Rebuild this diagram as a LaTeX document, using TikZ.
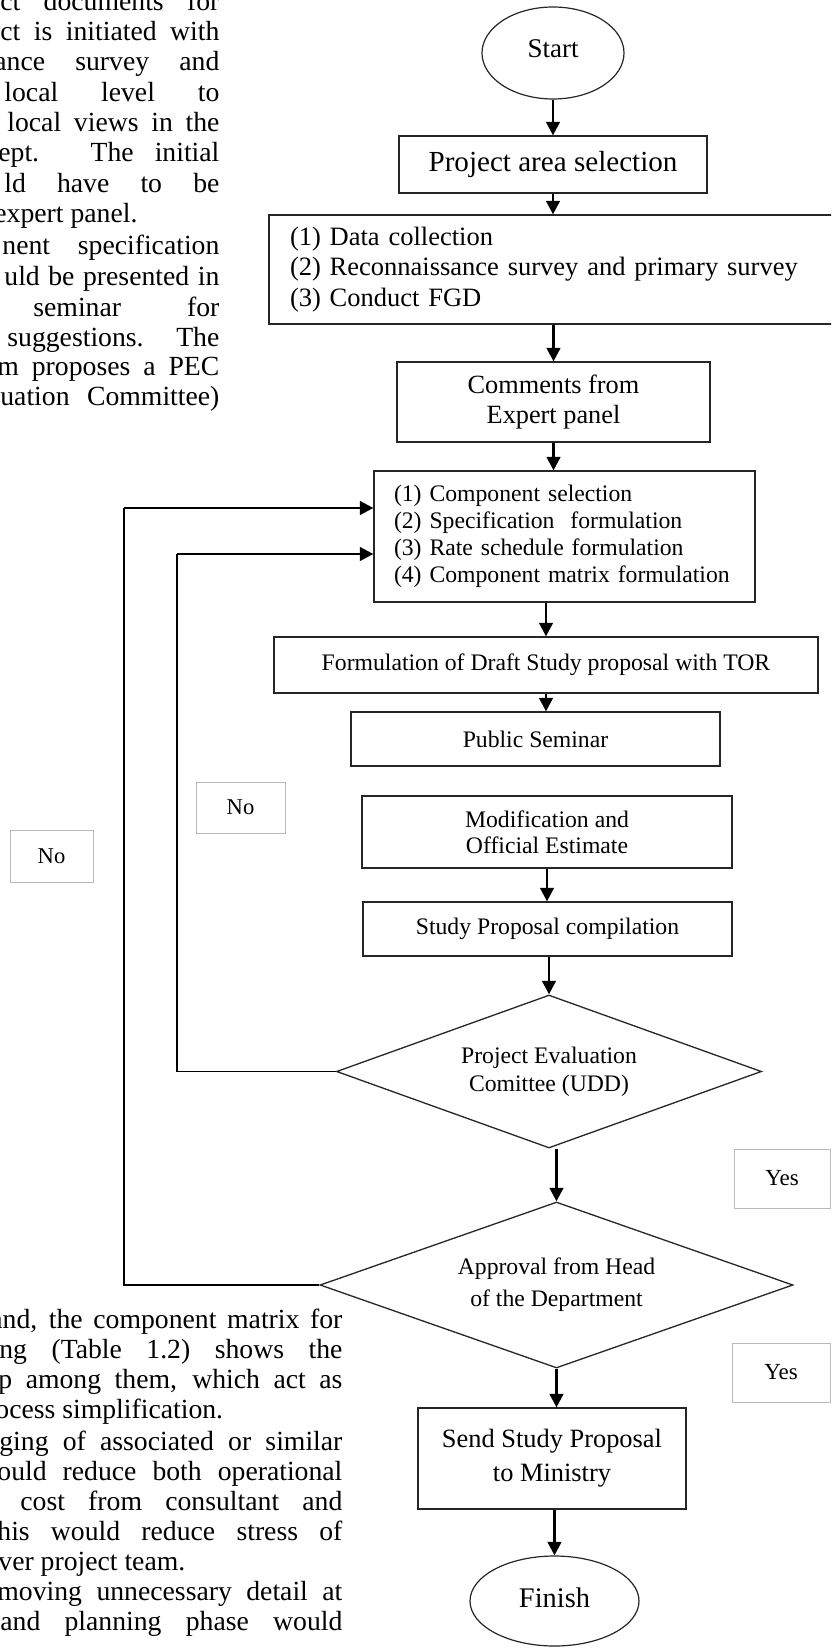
\documentclass[tikz,border=0pt]{standalone}
\usepackage{fontspec}
\setmainfont{Liberation Serif}
\usetikzlibrary{shapes.geometric,arrows.meta}
\begin{document}
\begin{tikzpicture}[x=0.5pt,y=-0.5pt,
  box/.style={draw=black!85,line width=0.6pt,rectangle,inner sep=0pt,align=center},
  oval/.style={draw=black!85,line width=0.6pt,ellipse,inner sep=0pt},
  dec/.style={draw=black!85,line width=0.65pt,diamond,inner sep=0pt,align=center},
  lab/.style={draw=gray!55,line width=0.4pt,rectangle,inner sep=0pt},
  flow/.style={line width=1.35pt,-{Triangle[length=6.8pt,width=6.8pt]}},
  loopline/.style={line width=0.55pt},
  para/.style={anchor=base west,inner sep=0pt,font=\fontsize{13.85}{15}\selectfont},
  fsmall/.style={font=\fontsize{11.85}{13.5}\selectfont},
]
\clip (0,0) rectangle (831,1648);
\fill[white] (0,0) rectangle (831,1648);

% ---------- flowchart nodes ----------
\node[oval,minimum width=71pt,minimum height=46pt,text depth=4pt,font=\fontsize{13.5}{16}\selectfont] (start) at (553,53) {Start};
\node[box,minimum width=154pt,minimum height=28.5pt,font=\fontsize{14.55}{17}\selectfont] (proj) at (553,164.5) {Project area selection};
\node[box,inner xsep=10.5pt,text width=267pt,align=left,minimum height=54.5pt,font=\fontsize{13.25}{15.25}\selectfont] (data) at (557,269.5) {(1) Data collection\\(2) Reconnaissance survey and primary survey\\(3) Conduct FGD};
\node[box,minimum width=156.5pt,minimum height=40pt,font=\fontsize{13.15}{15}\selectfont] (comm) at (553.5,402) {Comments from\\Expert panel};
\node[box,inner xsep=10pt,text width=170.5pt,align=left,minimum height=65.5pt,fsmall] (comps) at (564.5,536.5) {(1) Component selection\\(2) Specification~~formulation\\(3) Rate schedule formulation\\(4) Component matrix formulation};
\node[box,minimum width=272pt,minimum height=28pt,fsmall] (form) at (546,665) {Formulation of Draft Study proposal with TOR};
\node[box,minimum width=184.5pt,minimum height=27pt,fsmall] (pub) at (535.5,739) {Public Seminar};
\node[box,minimum width=185pt,minimum height=36pt,font=\fontsize{11.85}{13}\selectfont] (mod) at (547,832) {Modification and\\Official Estimate};
\node[box,minimum width=184.5pt,minimum height=27pt,fsmall] (study) at (547.5,929) {Study Proposal compilation};
\node[dec,minimum width=212.5pt,minimum height=76.5pt,aspect=2.78,font=\fontsize{11.85}{14}\selectfont] (pec) at (549,1071.5) {Project Evaluation\\Comittee (UDD)};
\node[dec,minimum width=236.5pt,minimum height=83pt,aspect=2.85,font=\fontsize{11.85}{16}\selectfont] (appr) at (556.5,1285) {Approval from Head\\of the Department};
\node[box,minimum width=134pt,minimum height=50.5pt,font=\fontsize{13.2}{17}\selectfont] (send) at (552,1458.5) {Send Study Proposal\\to Ministry};
\node[oval,minimum width=84.5pt,minimum height=45pt,text depth=3pt,font=\fontsize{14.2}{17}\selectfont] (finish) at (554.5,1601) {Finish};

% ---------- labels ----------
\node[lab,minimum width=44.5pt,minimum height=25.5pt,font=\fontsize{11.3}{13}\selectfont] (noin) at (240.5,807.5) {No};
\node[lab,minimum width=41.5pt,minimum height=26pt,font=\fontsize{11.3}{13}\selectfont] (noout) at (51.5,856) {No};
\node[lab,minimum width=48pt,minimum height=29.5pt,font=\fontsize{11.5}{13}\selectfont] (yes1) at (782,1178.5) {Yes};
\node[lab,minimum width=49pt,minimum height=29.5pt,font=\fontsize{11.5}{13}\selectfont] (yes2) at (781,1372.5) {Yes};

% ---------- connectors ----------
\draw[flow] (start) -- (proj);
\draw[flow] (proj.south) -- (proj.south |- data.north);
\draw[flow] (comm.north |- data.south) -- (comm.north);
\draw[flow] (comm.south) -- (comm.south |- comps.north);
\draw[flow] (form.north |- comps.south) -- (form.north);
\draw[flow] (form.south) -- (form.south |- pub.north);
\draw[flow] (mod.south) -- (mod.south |- study.north);
\draw[flow] (pec.north |- study.south) -- (pec.north);
\draw[flow] (appr.north |- pec.south) -- (appr.north);
\draw[flow] (appr.south) -- (appr.south |- send.north);
\draw[flow] (finish.north |- send.south) -- (finish.north);

\coordinate (inx) at (177,554);
\coordinate (outx) at (124,508);
\draw[loopline] (pec.west) -| (inx);
\draw[flow] (inx) -- (comps.west |- inx);
\draw[loopline] (appr.west) -| (outx);
\draw[flow] (outx) -- (comps.west |- outx);

% ---------- surrounding page text (top) ----------
\node[para] (p1) at (0,10.5) {\makebox[109.5pt][s]{ct documents for}};
\node[para] (p2) at (0,41) {\makebox[109.5pt][s]{ct is initiated with}};
\node[para] (p3) at (-6,71) {\makebox[112.5pt][s]{ance survey and}};
\node[para] (p4) at (4,101.5) {\makebox[107.5pt][s]{local level to}};
\node[para] (p5) at (7,132) {\makebox[106pt][s]{local views in the}};
\node[para] (p6) at (-2,162) {\makebox[110.5pt][s]{ept. The initial}};
\node[para] (p7) at (4,192.5) {\makebox[107.5pt][s]{ld have to be}};
\node[para] (p8) at (-6,223) {expert panel.};
\node[para] (p9) at (2,255) {\makebox[108.5pt][s]{nent specification}};
\node[para] (p10) at (4,285.5) {\makebox[107.5pt][s]{uld be presented in}};
\node[para] (p11) at (33,316) {\makebox[93pt][s]{seminar for}};
\node[para] (p12) at (7,346) {\makebox[106pt][s]{suggestions. The}};
\node[para] (p13) at (-3,375) {\makebox[111pt][s]{m proposes a PEC}};
\node[para] (p14) at (0,405) {\makebox[109.5pt][s]{uation Committee)}};

% ---------- surrounding page text (bottom) ----------
\node[para] (q1) at (-10,1328) {\makebox[176pt][s]{and, the component matrix for}};
\node[para] (q2) at (-1,1358) {\makebox[171.5pt][s]{ng (Table 1.2) shows the}};
\node[para] (q3) at (-2,1388) {\makebox[172pt][s]{p among them, which act as}};
\node[para] (q4) at (-5,1418) {ocess simplification.};
\node[para] (q5) at (-1,1450) {\makebox[171.5pt][s]{ging of associated or similar}};
\node[para] (q6) at (-3,1480) {\makebox[172.5pt][s]{ould reduce both operational}};
\node[para] (q7) at (20,1510) {\makebox[161pt][s]{cost from consultant and}};
\node[para] (q8) at (-3,1540) {\makebox[172.5pt][s]{his would reduce stress of}};
\node[para] (q9) at (-2,1570) {ver project team.};
\node[para] (q10) at (-3,1600.5) {\makebox[172.5pt][s]{moving unnecessary detail at}};
\node[para] (q11) at (0,1630.5) {\makebox[171pt][s]{and planning phase would}};
\end{tikzpicture}
\end{document}
